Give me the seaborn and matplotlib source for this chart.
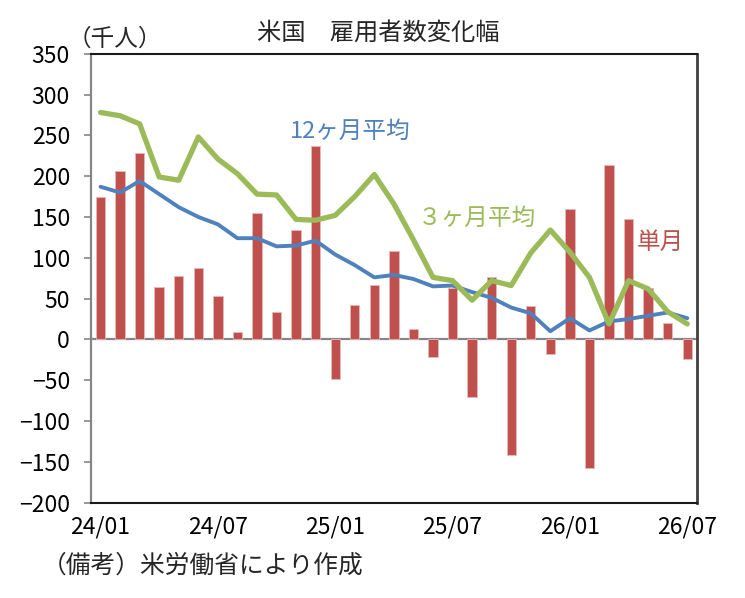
import numpy as np
import pandas as pd
import matplotlib
matplotlib.use("Agg")
import matplotlib.pyplot as plt
import seaborn as sns

# 24/01 .. 26/07, monthly (thousand persons)
months = [f"{y:02d}/{m:02d}" for y in (24, 25, 26) for m in range(1, 13)][:31]
single = [175, 206, 228, 64, 78, 87, 53, 9, 155, 33, 134, 237,
          -48, 42, 67, 108, 13, -21, 63, -71, 76, -141, 41, -18,
          160, -157, 214, 147, 63, 20, -24]
avg12 = [187, 180, 194, 178, 162, 150, 141, 124, 124, 114, 115, 121,
         104, 91, 76, 79, 74, 65, 66, 58, 51, 39, 32, 10,
         26, 11, 22, 25, 29, 33, 26]
avg3 = [278, 274, 264, 199, 195, 248, 221, 203, 178, 177, 147, 146,
        152, 175, 202, 166, 122, 76, 72, 48, 72, 66, 106, 134,
        107, 76, 19, 72, 62, 34, 19]
tick_months = ["24/01", "24/07", "25/01", "25/07", "26/01", "26/07"]

sns.set_style("white")
plt.rcParams["font.family"] = ["Noto Sans CJK JP", "DejaVu Sans"]

df = pd.DataFrame({"month": months, "single": single,
                   "avg12": avg12, "avg3": avg3})
df["pos"] = np.arange(len(df))

fig = plt.figure(figsize=(7.45, 5.98), dpi=100)
ax = fig.add_axes([0.1218, 0.1594, 0.8138, 0.7508])

ax.axhline(0, color="#868686", lw=1.6, zorder=1)
sns.barplot(data=df, x="month", y="single", color="#C0504D", saturation=1,
            width=0.48, edgecolor="#E6B9B8", linewidth=0.6, ax=ax, zorder=2)
sns.lineplot(data=df, x="pos", y="avg12", color="#4F81BD", lw=2.8, ax=ax, zorder=3)
sns.lineplot(data=df, x="pos", y="avg3", color="#9BBB59", lw=3.8, ax=ax, zorder=4)

ax.set_xlim(-0.5, len(df) - 0.5)
ax.set_ylim(-200, 350)
ax.set_yticks(range(-200, 351, 50))
ax.set_xticks([months.index(t) for t in tick_months])
ax.set_xticklabels(tick_months)
ax.set_xlabel("")
ax.set_ylabel("")

ax.tick_params(axis="y", direction="out", length=5, width=1.2, color="#868686",
               pad=10, labelsize=16.5, labelcolor="black", left=True)
ax.tick_params(axis="x", length=0, pad=9, labelsize=16.5, labelcolor="black")

ax.spines["left"].set_color("#868686")
ax.spines["left"].set_linewidth(1.6)
ax.spines["bottom"].set_color("#1a1a1a")
ax.spines["bottom"].set_linewidth(1.5)
ax.spines["top"].set_color("#1a1a1a")
ax.spines["top"].set_linewidth(1.5)
ax.spines["right"].set_color("#404040")
ax.spines["right"].set_linewidth(2)

ax.text(0.329, 0.826, "12ヶ月平均", transform=ax.transAxes, color="#4F81BD",
        fontsize=17, va="center", ha="left")
ax.text(0.540, 0.634, "３ヶ月平均", transform=ax.transAxes, color="#9BBB59",
        fontsize=17, va="center", ha="left")
ax.text(0.900, 0.580, "単月", transform=ax.transAxes, color="#C0504D",
        fontsize=17, va="center", ha="left")

fig.text(0.508, 0.945, "米国　雇用者数変化幅", fontsize=17.5, ha="center", va="center")
fig.text(0.154, 0.934, "（千人）", fontsize=17, ha="center", va="center")
fig.text(0.056, 0.054, "（備考）米労働省により作成", fontsize=17.8, ha="left", va="center")

fig.savefig("out.png", dpi=100)
